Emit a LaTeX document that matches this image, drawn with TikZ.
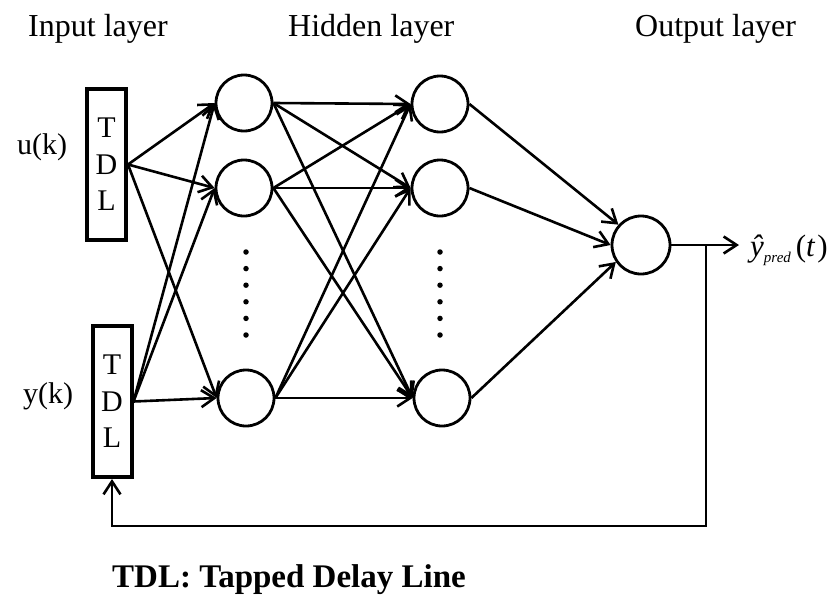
\documentclass[tikz,border=0pt]{standalone}
\usepackage{fontspec}
\setmainfont{Liberation Serif}
\usetikzlibrary{arrows.meta}

\begin{document}
\begin{tikzpicture}[x=1pt,y=-1pt,
  neuron/.style={circle, draw, line width=2.8pt, minimum size=56pt, inner sep=0pt},
  tdlbox/.style={draw, line width=4pt, inner sep=0pt, minimum width=39pt,
    minimum height=151pt, align=center, font=\fontsize{30}{36.5}\selectfont},
  link/.style={line width=2.6pt, -{Straight Barb[length=13pt,width=17pt,line width=2.6pt]}},
  head/.style={anchor=base west, inner sep=0pt, font=\fontsize{32}{38}\selectfont},
  sig/.style={anchor=base west, inner sep=0pt, font=\fontsize{30}{35}\selectfont},
  dot/.style={circle, fill, inner sep=0pt, minimum size=5.5pt}
]
\useasboundingbox (0,0) rectangle (832,597);

% layer titles
\node[head] (tin)  at (28,36)  {Input layer};
\node[head] (thid) at (288,36) {Hidden layer};
\node[head] (tout) at (635,36) {Output layer};

% inputs and tapped delay lines
\node[sig] (uk) at (17,154) {u(k)};
\node[sig] (yk) at (23,403) {y(k)};
\node[tdlbox] (tdl1) at (106.5,164.5) {T\\D\\L};
\node[tdlbox] (tdl2) at (112,401.5) {T\\D\\L};

% first hidden column
\node[neuron] (h1a) at (244,103) {};
\node[neuron] (h1b) at (244,188) {};
\node[neuron] (h1c) at (246,398) {};
% second hidden column
\node[neuron] (h2a) at (440,104) {};
\node[neuron] (h2b) at (440,188) {};
\node[neuron] (h2c) at (442,398) {};
% output neuron
\node[neuron, minimum size=58pt] (out) at (641,245) {};

% vertical ellipses between neurons
\foreach \i in {0,...,5} {
  \node[dot] (da\i) at (246,{252+16.6*\i}) {};
  \node[dot] (db\i) at (440,{252+16.6*\i}) {};
}

% connections
\foreach \s in {tdl1,tdl2}
  \foreach \t in {h1a,h1b,h1c}
    \draw[link] (\s.east) -- (\t.west);
\foreach \s in {h1a,h1b,h1c}
  \foreach \t in {h2a,h2b,h2c}
    \draw[link] (\s.east) -- (\t.west);
\draw[link] (h2a.east) -- (out.138);
\draw[link] (h2b.east) -- (out.west);
\draw[link] (h2c.east) -- (out.214);

% output and feedback
\coordinate (tap) at (706,245);
\coordinate (tip) at (739,245);
\coordinate (fb) at (706,526);
\draw[link] (out.east) -- (tip);
\draw[link] (tap) -- (fb) -| (tdl2.south);

\node[anchor=base west, inner sep=0pt, font=\fontsize{31}{36}\selectfont] (yhat) at (750,256)
  {{\itshape\^{y}}\raisebox{-6pt}{\fontsize{15}{17}\selectfont\itshape pred}\hspace{5pt}(\textit{t}\hspace{2pt})};

% legend
\node[anchor=base west, inner sep=0pt, font=\bfseries\fontsize{33}{40}\selectfont] (legend) at (112,587)
  {TDL: Tapped Delay Line};
\end{tikzpicture}
\end{document}
